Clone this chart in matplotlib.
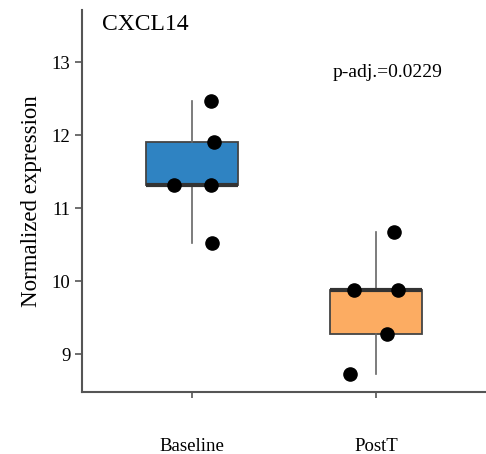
import matplotlib
matplotlib.use("Agg")
import matplotlib.pyplot as plt
import numpy as np

groups = ["Baseline", "PostT"]
baseline_vals = [12.47, 11.90, 11.31, 11.31, 10.52]
postt_vals = [10.67, 9.88, 9.88, 9.27, 8.73]
# jittered x positions of the dots
baseline_x = [1.10, 1.12, 0.90, 1.10, 1.11]
postt_x = [2.10, 1.88, 2.12, 2.06, 1.86]
box_colors = ["#2f83c2", "#fcac62"]
title = "CXCL14"
padj_text = "p-adj.=0.0229"

plt.rcParams['font.family'] = ['Liberation Serif', 'DejaVu Serif']

fig = plt.figure(figsize=(4.86, 4.54), dpi=100)
ax = fig.add_axes([0.169, 0.1366, 0.831, 0.841])

edge = "#444444"
bp = ax.boxplot([baseline_vals, postt_vals], positions=[1, 2], widths=0.5,
                patch_artist=True, showfliers=False, whis=(0, 100),
                boxprops=dict(edgecolor=edge, linewidth=1.3),
                whiskerprops=dict(color="#666666", linewidth=1.2),
                capprops=dict(linewidth=0),
                medianprops=dict(color="#333333", linewidth=3))
for patch, c in zip(bp['boxes'], box_colors):
    patch.set_facecolor(c)

ax.scatter(baseline_x, baseline_vals, s=90, color="black", zorder=5)
ax.scatter(postt_x, postt_vals, s=90, color="black", zorder=5)

ax.set_xlim(0.4, 2.6)
ax.set_ylim(8.48, 13.71)
ax.set_yticks([9, 10, 11, 12, 13])
ax.set_xticks([1, 2])
ax.set_xticklabels(groups, fontsize=13.5)
ax.tick_params(axis='x', length=4, width=1.2, color="#555555", pad=29)
ax.tick_params(axis='y', length=5, width=1.2, color="#555555", labelsize=13.5)

for side in ['top', 'right']:
    ax.spines[side].set_visible(False)
for side in ['left', 'bottom']:
    ax.spines[side].set_color("#555555")
    ax.spines[side].set_linewidth(1.5)

ax.set_ylabel("Normalized expression", fontsize=16.5, labelpad=7)
ax.text(0.05, 0.99, title, transform=ax.transAxes, fontsize=17, va='top', ha='left')
ax.text(2.065, 12.86, padj_text, fontsize=14, ha='center', va='center')

fig.savefig("out.png", dpi=100)
